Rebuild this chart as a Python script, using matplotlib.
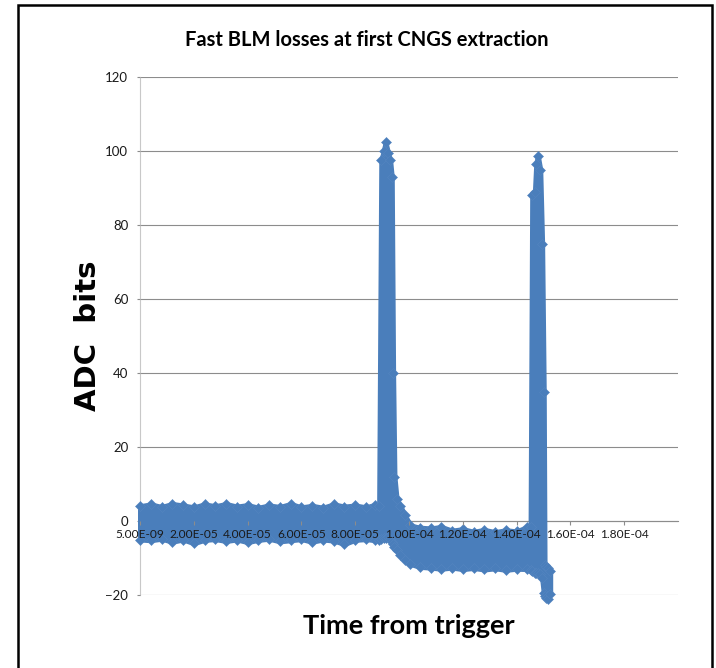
import matplotlib
matplotlib.use("Agg")
import matplotlib.pyplot as plt
from matplotlib.patches import Rectangle
from matplotlib.ticker import FuncFormatter
import numpy as np

# envelope of the fast BLM signal (time in us, ADC bits): upper / lower edge
t_us = [0.005, 4, 8, 12, 16, 20, 24, 28, 32, 36, 40, 44, 48, 52, 56, 60, 64, 68,
        72, 76, 80, 84, 87.5, 88.9, 89.7, 90.6, 91.3, 92.2, 93.0, 93.6, 94.1,
        94.6, 95.4, 96.8, 98.5, 100.5, 104, 108, 112, 116, 120, 124, 128, 132,
        136, 140, 144.0, 145.2, 145.8, 146.8, 147.3, 147.9, 148.8, 149.5,
        150.1, 150.4, 150.9, 151.6, 152.5]
adc_hi = [4.0, 4.5, 3.8, 4.6, 4.2, 3.7, 4.5, 4.0, 4.6, 3.9, 4.3, 3.6, 4.2, 3.8,
          4.6, 3.7, 4.1, 3.6, 4.5, 3.9, 4.2, 3.7, 4.4, 4.0, 97.5, 100.0, 102.3,
          99.5, 97.5, 93.0, 40.0, 12.0, 6.0, 4.0, 1.5, -1.2, -1.8, -2.0, -1.6,
          -2.6, -2.2, -2.9, -2.4, -3.0, -2.5, -2.8, -1.6, -1.5, 88.0, 89.0,
          96.5, 98.7, 95.0, 75.0, 35.0, -12.0, -12.3, -12.8, -13.5]
adc_lo = [-5.0, -5.2, -4.8, -5.6, -5.0, -6.0, -5.1, -4.9, -5.4, -5.0, -5.7, -5.1,
          -4.8, -5.5, -5.2, -4.9, -5.6, -5.0, -5.3, -6.2, -5.1, -4.9, -5.2,
          -5.0, -4.9, -4.7, -4.6, -4.2, -4.8, -5.6, -6.3, -7.0, -7.9, -9.2,
          -10.5, -11.6, -12.4, -12.6, -12.9, -12.6, -13.0, -12.7, -13.1, -12.8,
          -13.2, -12.9, -13.0, -13.2, -13.6, -14.0, -14.0, -14.0, -14.2, -15.5,
          -19.5, -20.3, -20.9, -21.0, -19.8]

yticks = [-20, 0, 20, 40, 60, 80, 100, 120]
x0 = 5e-9
xstep = 2e-5

blue = "#4A7EBB"
grid_c = "#8C8C8C"
font = ["Lato", "DejaVu Sans"]

t = np.array(t_us) * 1e-6
hi = np.array(adc_hi)
lo = np.array(adc_lo)

fig = plt.figure(figsize=(7.16, 6.68), dpi=100)
ax = fig.add_axes([140 / 716, 1 - 595 / 668, 538 / 716, 518 / 668])

# horizontal grid behind the signal
for y in yticks:
    ax.axhline(y, color=grid_c, lw=0.8, zorder=1)

ax.fill_between(t, lo, hi, color=blue, lw=3.6, edgecolor=blue,
                joinstyle="round", zorder=3, clip_on=False)
for edge in (hi, lo):
    ax.plot(t, edge, "D", ms=5, color=blue, mec="#5585C0", mew=0.4,
            zorder=4, clip_on=False)

ax.set_xlim(x0, x0 + 10 * xstep)
ax.set_ylim(-20, 120)
ax.set_yticks(yticks)
ax.set_xticks([x0 + k * xstep for k in range(10)])
ax.xaxis.set_major_formatter(FuncFormatter(lambda v, p: "%.2E" % v))

for s in ["top", "right"]:
    ax.spines[s].set_visible(False)
ax.spines["bottom"].set_position(("data", 0))
ax.spines["bottom"].set_color(grid_c)
ax.spines["bottom"].set_linewidth(0.8)
ax.spines["bottom"].set_zorder(1)
ax.spines["left"].set_color("#C8C8C8")
ax.spines["left"].set_linewidth(0.8)
ax.spines["left"].set_zorder(1)
ax.xaxis.set_zorder(5)

ax.tick_params(axis="x", direction="out", length=3, color=grid_c, pad=3,
               labelsize=8.6)
ax.tick_params(axis="y", direction="out", length=2.5, color=grid_c, pad=6,
               labelsize=9.5)
for lab in ax.get_xticklabels() + ax.get_yticklabels():
    lab.set_family(font)
    lab.set_color("#1A1A1A")

fig.text(367 / 716, 1 - 40 / 668, "Fast BLM losses at first CNGS extraction",
         ha="center", va="center", fontsize=14.5, fontweight="bold",
         family=font)
fig.text(409 / 716, 1 - 626 / 668, "Time from trigger", ha="center",
         va="center", fontsize=19.5, fontweight="bold", family=font)
fig.text(88 / 716, 1 - 336 / 668, "ADC  bits", ha="center", va="center",
         rotation=90, fontsize=21, fontweight="bold", family="DejaVu Sans")

fig.patches.append(Rectangle((18 / 716, -0.05), 694 / 716, 1.05 - 5 / 668,
                             transform=fig.transFigure, fill=False,
                             ec="black", lw=1.8))

fig.savefig("out.png", dpi=100)
